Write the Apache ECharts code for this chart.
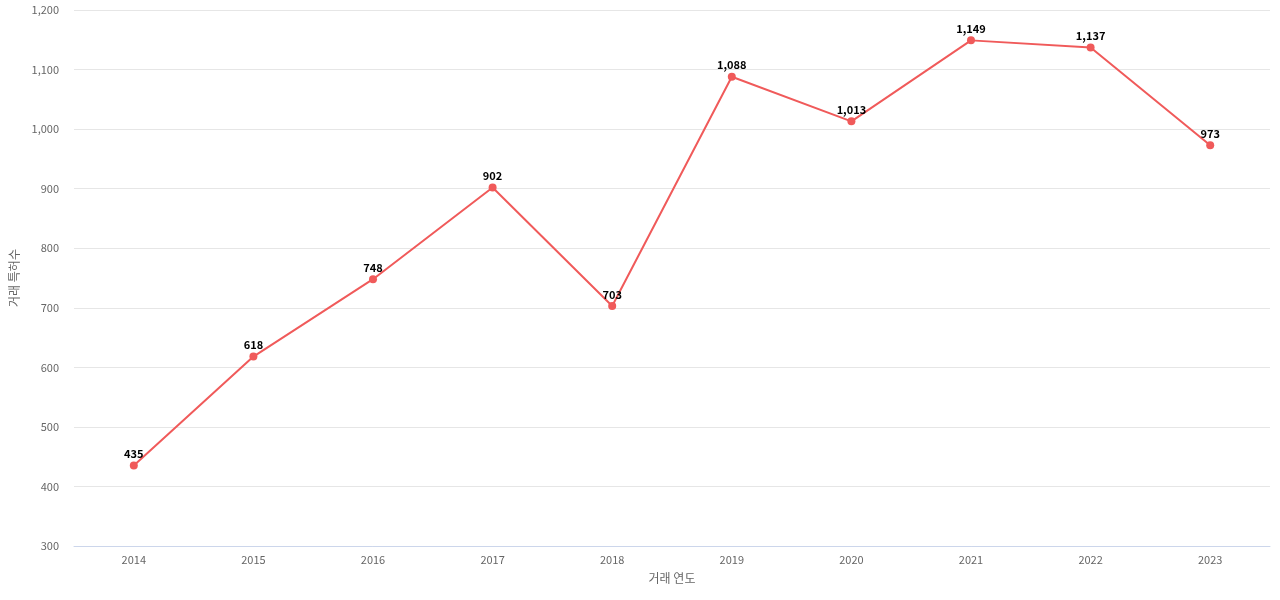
<!DOCTYPE html>
<html>
<head>
<meta charset="utf-8">
<script src="https://cdn.jsdelivr.net/npm/echarts@6/dist/echarts.min.js"></script>
<style>html,body{margin:0;padding:0;background:#fff}#main{width:1280px;height:600px}</style>
</head>
<body>
<div id="main"></div>
<script>
// 연도별 거래 특허수
const years = ['2014', '2015', '2016', '2017', '2018', '2019', '2020', '2021', '2022', '2023'];
const counts = [435, 618, 748, 902, 703, 1088, 1013, 1149, 1137, 973];

const chart = echarts.init(document.getElementById('main'));
chart.setOption({
    animation: false,
    textStyle: { fontFamily: '"Noto Sans CJK KR", "Noto Sans", sans-serif' },
    grid: { left: 73, right: 10, top: 10, bottom: 54 },
    xAxis: {
        type: 'category',
        data: years,
        name: '거래 연도',
        nameLocation: 'middle',
        nameGap: 26,
        nameTextStyle: { color: '#666', fontSize: 12 },
        axisTick: { show: false },
        axisLine: { lineStyle: { color: '#ccd6eb' } },
        axisLabel: { color: '#666', fontSize: 11 }
    },
    yAxis: {
        type: 'value',
        min: 300,
        max: 1200,
        interval: 100,
        name: '거래 특허수',
        nameLocation: 'middle',
        nameGap: 54,
        nameTextStyle: { color: '#666', fontSize: 12 },
        axisLabel: { color: '#666', fontSize: 11, margin: 15 },
        splitLine: { lineStyle: { color: '#e6e6e6' } }
    },
    series: [{
        type: 'line',
        data: counts,
        color: '#f05a5a',
        symbol: 'circle',
        symbolSize: 8,
        lineStyle: { width: 2 },
        label: {
            show: true,
            position: 'top',
            distance: 2,
            color: '#000',
            fontWeight: 'bold',
            fontSize: 11,
            formatter: p => p.value.toLocaleString('en-US')
        }
    }]
});
</script>
</body>
</html>
